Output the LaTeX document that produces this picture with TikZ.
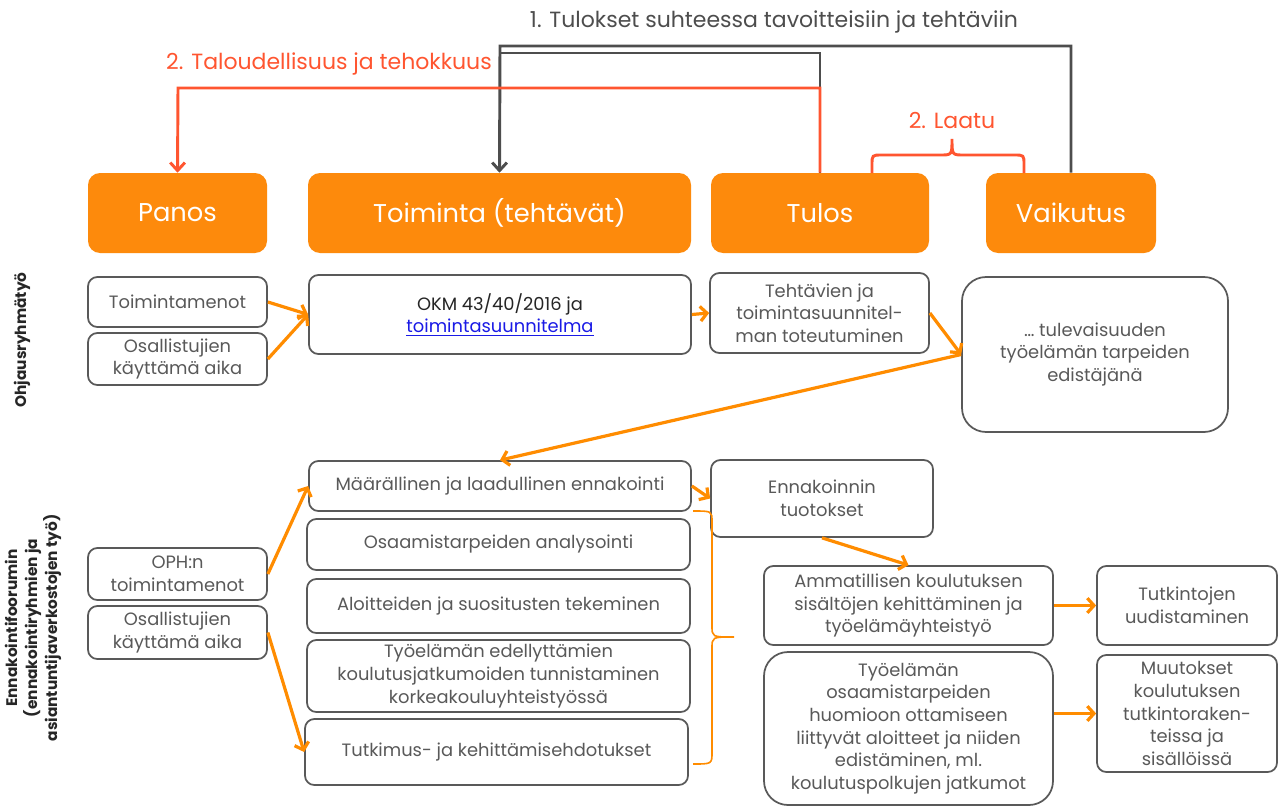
\documentclass[tikz,border=0pt]{standalone}
\usepackage{fontspec}
\setmainfont{Poppins}
\usetikzlibrary{arrows.meta,fit,calc}
\definecolor{obox}{HTML}{FD8A0C}
\definecolor{ored}{HTML}{FF5530}
\definecolor{tgray}{HTML}{595959}
\definecolor{lgray}{HTML}{4D4D4D}
\definecolor{oarr}{HTML}{FF8C00}
\definecolor{linkblue}{HTML}{1A1AE6}
\begin{document}
\begin{tikzpicture}[x=0.75pt,y=-0.75pt,
  obx/.style={rectangle, rounded corners=9pt, fill=obox, text=white, inner sep=0pt, font=\fontsize{19.3}{23}\selectfont},
  wbx/.style={rectangle, rounded corners=7pt, draw=tgray, line width=1.3pt, fill=white, text=tgray, inner sep=0pt, align=center, font=\fontsize{13.4}{17}\selectfont},
  bigbx/.style={rounded corners=18pt},
  oarrow/.style={draw=oarr, line width=2.4pt, -{Straight Barb[length=5pt,width=11pt]}},
  garrow/.style={draw=lgray, line width=2.2pt},
  rline/.style={draw=ored, line width=2.2pt},
  toplabel/.style={font=\fontsize{16.5}{19}\selectfont},
  sidelabel/.style={rotate=90, align=center, text=black!85, font=\bfseries\fontsize{11.5}{15}\selectfont}
]
\useasboundingbox[fill=white] (0,0) rectangle (1280,806);

% top labels
\node[toplabel, text=lgray] (t1) at (774,22) {1. Tulokset suhteessa tavoitteisiin ja tehtäviin};
\node[toplabel, text=ored] (t2) at (329,64) {2. Taloudellisuus ja tehokkuus};
\node[toplabel, text=ored] (t3) at (952,121) {2. Laatu};

% orange header boxes
\node[obx, fit={(88,173) (267,253)}] (pan) {};
\node[obx] at (pan.center) {Panos};
\node[obx, fit={(308,173) (691,253)}] (toi) {};
\node[obx] at (toi.center) {Toiminta (tehtävät)};
\node[obx, fit={(711,173) (929,253)}] (tulo) {};
\node[obx] at (tulo.center) {Tulos};
\node[obx, fit={(986,173) (1156,253)}] (vai) {};
\node[obx] at (vai.center) {Vaikutus};

% top connectors
\coordinate (g1) at (500,46);
\coordinate (g2) at (500,53);
\coordinate (r1) at (178,88);
\draw[garrow, -{Straight Barb[length=6pt,width=11pt]}] (vai.north) |- (g1) -- (toi.north);
\draw[garrow] (tulo.north) |- (g2);
\draw[rline, -{Straight Barb[length=6pt,width=11pt]}] (tulo.north) |- (r1) -- (pan.north);
\draw[rline] (872,173) -- (872,165) .. controls (872,155) .. (882,155) -- (940,155)
  .. controls (952,155) .. (952,139) .. controls (952,155) .. (964,155) -- (1014,155)
  .. controls (1024,155) .. (1024,165) -- (1024,173);

% side labels
\node[sidelabel] (l1) at (22,340) {Ohjausryhmätyö};
\node[sidelabel] (l2) at (33,628) {Ennakointifoorumin\\(ennakointiryhmien ja\\asiantuntijaverkostojen työ)};

% Ohjausryhma row
\node[wbx, fit={(88,277) (267,327)}] (tmb) {};
\node[wbx, draw=none, fill=none] (tm) at (tmb.center) {Toimintamenot};
\node[wbx, fit={(88,333) (267,385)}] (os1b) {};
\node[wbx, draw=none, fill=none] (os1) at (os1b.center) {Osallistujien\\käyttämä aika};
\node[wbx, fit={(309,275) (691,354)}] (okmb) {};
\node[wbx, draw=none, fill=none, text=black!85] (okm) at (okmb.center) {OKM 43/40/2016 ja\\\textcolor{linkblue}{\underline{toimintasuunnitelma}}};
\node[wbx, fit={(710,273) (929,353)}] (tehtb) {};
\node[wbx, draw=none, fill=none] (teht) at (tehtb.center) {Tehtävien ja\\toimintasuunnitel-\\man toteutuminen};
\node[wbx, bigbx, fit={(962,277) (1228,432)}] (tulb) {};
\node[wbx, draw=none, fill=none] (tul) at (tulb.center) {… tulevaisuuden\\työelämän tarpeiden\\edistäjänä};

% Ennakointi row
\node[wbx, fit={(309,461) (691,511)}] (maarb) {};
\node[wbx, draw=none, fill=none] (maar) at (maarb.center) {Määrällinen ja laadullinen ennakointi};
\node[wbx, fit={(307,519) (690,570)}] (osab) {};
\node[wbx, draw=none, fill=none] (osa) at (osab.center) {Osaamistarpeiden analysointi};
\node[wbx, fit={(307,579) (690,633)}] (alob) {};
\node[wbx, draw=none, fill=none] (alo) at (alob.center) {Aloitteiden ja suositusten tekeminen};
\node[wbx, fit={(307,640) (690,712)}] (tykb) {};
\node[wbx, draw=none, fill=none] (tyk) at (tykb.center) {Työelämän edellyttämien\\koulutusjatkumoiden tunnistaminen\\korkeakouluyhteistyössä};
\node[wbx, fit={(305,719) (688,785)}] (tutkb) {};
\node[wbx, draw=none, fill=none] (tutk) at (tutkb.center) {Tutkimus- ja kehittämisehdotukset};
\node[wbx, fit={(88,548) (267,600)}] (ophb) {};
\node[wbx, draw=none, fill=none] (oph) at (ophb.center) {OPH:n\\toimintamenot};
\node[wbx, fit={(88,606) (267,659)}] (os2b) {};
\node[wbx, draw=none, fill=none] (os2) at (os2b.center) {Osallistujien\\käyttämä aika};
\node[wbx, fit={(711,460) (933,537)}] (ennb) {};
\node[wbx, draw=none, fill=none] (enn) at (ennb.center) {Ennakoinnin\\tuotokset};
\node[wbx, fit={(764,566) (1053,645)}] (ammb) {};
\node[wbx, draw=none, fill=none] (amm) at (ammb.center) {Ammatillisen koulutuksen\\sisältöjen kehittäminen ja\\työelämäyhteistyö};
\node[wbx, bigbx, fit={(764,652) (1053,805)}] (tyob) {};
\node[wbx, draw=none, fill=none] (tyo) at (tyob.center) {Työelämän\\osaamistarpeiden\\huomioon ottamiseen\\liittyvät aloitteet ja niiden\\edistäminen, ml.\\koulutuspolkujen jatkumot};
\node[wbx, fit={(1097,566) (1277,645)}] (tutb) {};
\node[wbx, draw=none, fill=none] (tut) at (tutb.center) {Tutkintojen\\uudistaminen};
\node[wbx, fit={(1097,655) (1277,772)}] (muub) {};
\node[wbx, draw=none, fill=none] (muu) at (muub.center) {Muutokset\\koulutuksen\\tutkintoraken-\\teissa ja\\sisällöissä};

% orange arrows
\draw[oarrow] (tmb.east) -- (okmb.west);
\draw[oarrow] (os1b.east) -- (okmb.west);
\draw[oarrow] (okmb.east) -- (tehtb.west);
\draw[oarrow] (tehtb.east) -- (tulb.west);
\draw[oarrow] (tulb.west) -- (maarb.north);
\draw[oarrow] (ophb.east) -- (maarb.west);
\draw[oarrow] (os2b.east) -- (tutkb.west);
\draw[oarrow] (maarb.east) -- (ennb.west);
\draw[oarrow] (ennb.south) -- (ammb.north);
\draw[oarrow] (ammb.east) -- (tutb.west);
\draw[oarrow] (tyob.east |- muub.west) -- (muub.west);

% brace
\draw[draw=oarr, line width=1.2pt] (693,511) .. controls (712,511) .. (712,522) -- (712,626)
  .. controls (712,637) .. (734,637) .. controls (712,637) .. (712,648) -- (712,752)
  .. controls (712,764) .. (693,764);
\end{tikzpicture}
\end{document}
